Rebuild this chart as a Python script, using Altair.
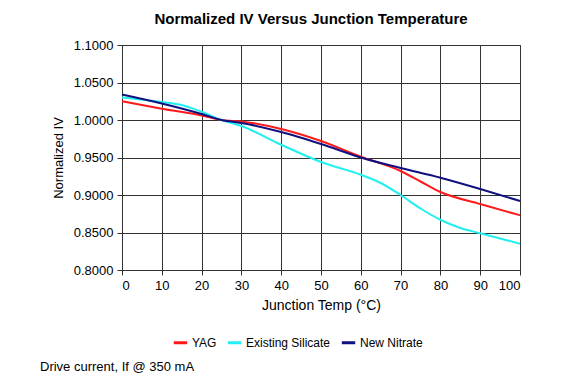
import altair as alt
import pandas as pd

series_names = ["YAG", "Existing Silicate", "New Nitrate"]
colors = ["#ff1a1a", "#22f0f0", "#10107f"]

yag_t = [0, 10, 20, 25, 30, 40, 50, 60, 70, 75, 80, 90, 100]
yag_v = [1.025, 1.015, 1.006, 1.000, 0.998, 0.988, 0.972, 0.951, 0.932, 0.918, 0.904, 0.888, 0.873]

sil_t = [0, 10, 15, 20, 25, 30, 40, 50, 60, 65, 70, 75, 80, 85, 90, 100]
sil_v = [1.030, 1.024, 1.020, 1.011, 1.000, 0.992, 0.967, 0.944, 0.927, 0.916, 0.900, 0.882, 0.867, 0.856, 0.849, 0.835]

nit_t = [0, 10, 20, 25, 30, 40, 50, 60, 70, 80, 90, 100]
nit_v = [1.034, 1.022, 1.008, 1.000, 0.996, 0.984, 0.968, 0.950, 0.936, 0.923, 0.908, 0.892]

x_ticks = list(range(0, 101, 10))
y_ticks = [0.80, 0.85, 0.90, 0.95, 1.00, 1.05, 1.10]

rows = []
for name, ts, vs in zip(series_names, [yag_t, sil_t, nit_t], [yag_v, sil_v, nit_v]):
    for t, v in zip(ts, vs):
        rows.append({"Series": name, "Temp": t, "IV": v})
df = pd.DataFrame(rows)

font = "Liberation Sans"

lines = alt.Chart(df).mark_line(strokeWidth=2, interpolate="monotone").encode(
    x=alt.X("Temp:Q", scale=alt.Scale(domain=[0, 100], nice=False),
            axis=alt.Axis(values=x_ticks, title="Junction Temp (°C)", format="d",
                          labelPadding=4, titlePadding=6, titleFontSize=14)),
    y=alt.Y("IV:Q", scale=alt.Scale(domain=[0.8, 1.1], nice=False, zero=False),
            axis=alt.Axis(values=y_ticks, title="Normalized IV", format=".4f",
                          labelPadding=4, titlePadding=8)),
    color=alt.Color("Series:N", sort=series_names,
                    scale=alt.Scale(domain=series_names, range=colors),
                    legend=alt.Legend(title=None, orient="none", direction="horizontal",
                                      legendX=50, legendY=289, symbolType="stroke",
                                      symbolStrokeWidth=3, symbolSize=180,
                                      labelFont=font, labelFontSize=12, labelColor="#000",
                                      columnPadding=4, labelOffset=3)),
)

note = alt.Chart(pd.DataFrame({"t": ["Drive current, If @ 350 mA"]})).mark_text(
    align="left", baseline="middle", font=font, fontSize=13, color="#000"
).encode(x=alt.value(-82), y=alt.value(322), text="t:N")

chart = alt.layer(lines, note).properties(
    width=398, height=225,
    title=alt.TitleParams("Normalized IV Versus Junction Temperature", font=font,
                          fontSize=15, fontWeight="bold", color="#000", dx=-10, offset=12),
    autosize=alt.AutoSizeParams(type="none"),
    padding={"left": 114, "top": 37, "right": 54, "bottom": 108},
).configure_view(stroke="#444", strokeWidth=1).configure_axis(
    gridColor="#333", gridOpacity=1, gridWidth=1, domainColor="#333", tickColor="#333",
    labelFont=font, labelFontSize=13, labelColor="#000",
    titleFont=font, titleFontSize=13, titleColor="#000", titleFontWeight="normal",
    tickSize=5
)

chart.save("out.html", embed_options={"renderer": "svg", "actions": False})
